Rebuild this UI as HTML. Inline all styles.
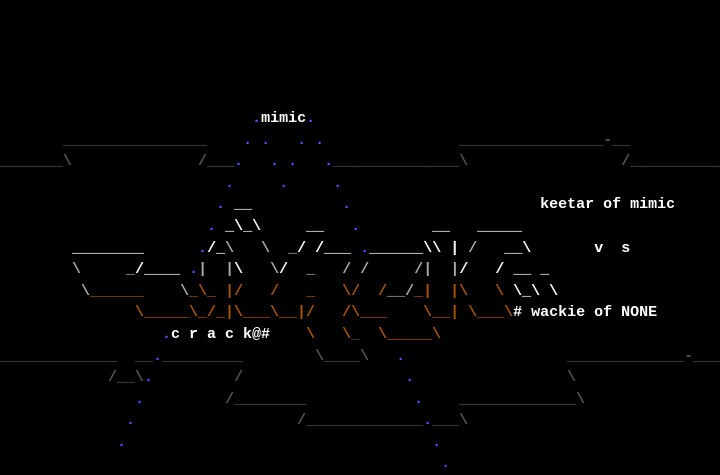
<!DOCTYPE html>
<html><head><meta charset="utf-8"><style>
html,body{margin:0;padding:0;background:#000;width:720px;height:475px;overflow:hidden}
pre{margin:0;font-family:"Liberation Mono",monospace;font-size:15px;font-weight:bold;line-height:21.6px;color:#fff;white-space:pre}
.w{color:#fff}.l{color:#aaa}.d{color:#555}.o{color:#aa5500}.b{color:#5555ff}
</style></head><body><pre>

    



                            <span class="b">.</span>mimic<span class="b">.</span>
       <span class="d">________________</span>    <span class="b">.</span> <span class="b">.</span>   <span class="b">.</span> <span class="b">.</span>               <span class="d">________________-__</span>
<span class="d">_______\</span>              <span class="d">/___</span><span class="b">.</span>   <span class="b">.</span> <span class="b">.</span>   <span class="b">.</span><span class="d">______________\</span>                 <span class="d">/__________</span>
                         <span class="b">.</span>     <span class="b">.</span>     <span class="b">.</span>
                        <span class="b">.</span> __          <span class="b">.</span>                     keetar of mimic
                       <span class="b">.</span> _\_\     __   <span class="b">.</span>        __   _____
        ________      <span class="b">.</span>/_<span class="l">\</span>   <span class="l">\</span>  <span class="l">_</span>/ /___ <span class="b">.</span>______\\ | <span class="l">/</span>   __\       v  s
        <span class="l">\</span>     <span class="l">_</span>/____ <span class="b">.</span><span class="l">|</span>  <span class="l">|</span>\   <span class="l">\</span>/  <span class="l">_</span>   <span class="l">/</span> <span class="l">/</span>     <span class="l">/|</span>  <span class="l">|</span>/   / __ _
         <span class="l">\</span><span class="o">______</span>    <span class="l">\</span><span class="o">_\_ |/   /   _   \/  /</span><span class="l">__/</span><span class="o">_|  |\   \</span> \_\ \
               <span class="o">\_____\_/_|\___\__|/   /\___    \__| \___\</span># wackie of NONE
                  <span class="b">.</span>c r a c k@#    <span class="o">\</span>   <span class="o">\</span><span class="d">_</span>  <span class="o">\_____\</span>
<span class="d">_____________  __</span><span class="b">.</span><span class="d">_________</span>        <span class="d">\____\</span>   <span class="b">.</span>                  <span class="d">_____________-___</span>
            <span class="d">/__\</span><span class="b">.</span>         <span class="d">/</span>                  <span class="b">.</span>                 <span class="d">\</span>
               <span class="b">.</span>         <span class="d">/________</span>            <span class="b">.</span>    <span class="d">_____________\</span>
              <span class="b">.</span>                  <span class="d">/_____________</span><span class="b">.</span><span class="d">___\</span>
             <span class="b">.</span>                                  <span class="b">.</span>
                                                 <span class="b">.</span>
</pre></body></html>
